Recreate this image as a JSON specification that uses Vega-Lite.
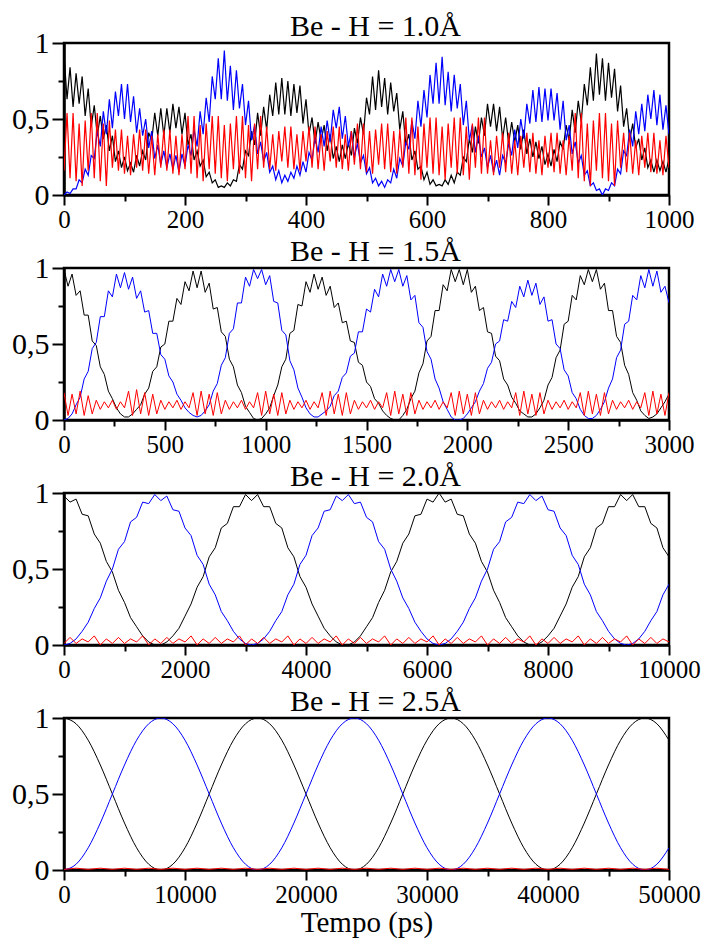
{
"$schema":"https://vega.github.io/schema/vega-lite/v6.json",
"background":"white",
"padding":{"left":10,"top":10,"right":10,"bottom":0},
"spacing":1,
"config":{
"font":"Liberation Serif",
"view":{"stroke":"black","strokeWidth":2.5},
"axis":{"labelFont":"Liberation Serif","labelColor":"black","tickColor":"black","tickWidth":2,"domainColor":"black","domainWidth":2.5,"grid":false,"labelFlush":false,"labelOverlap":false,"titleFont":"Liberation Serif","titleColor":"black","titleFontWeight":"normal"},
"axisX":{"labelFont":"Liberation Serif","labelFontSize":25,"labelPadding":2},
"axisY":{"labelFont":"Liberation Serif","labelFontSize":30,"labelPadding":3},
"title":{"font":"Liberation Serif","fontSize":30,"fontWeight":"normal","color":"black","offset":-14,"frame":"group","anchor":"middle","dx":9}
},
"datasets":{
"p1":[
{"t":0,"k":0.93,"b":0,"r":0.16},{"t":5,"k":0.63,"b":0.02,"r":0.54},{"t":10,"k":0.84,"b":0.01,"r":0.11},{"t":15,"k":0.58,"b":0.04,"r":0.54},{"t":20,"k":0.8,"b":0.04,"r":0.09},{"t":25,"k":0.6,"b":0.1,"r":0.47},{"t":30,"k":0.78,"b":0.08,"r":0.06},{"t":35,"k":0.52,"b":0.17,"r":0.49},{"t":40,"k":0.7,"b":0.13,"r":0.16},{"t":45,"k":0.45,"b":0.26,"r":0.54},
{"t":50,"k":0.59,"b":0.24,"r":0.11},{"t":55,"k":0.39,"b":0.42,"r":0.54},{"t":60,"k":0.52,"b":0.32,"r":0.09},{"t":65,"k":0.37,"b":0.55,"r":0.47},{"t":70,"k":0.46,"b":0.4,"r":0.06},{"t":75,"k":0.29,"b":0.63,"r":0.49},{"t":80,"k":0.39,"b":0.44,"r":0.18},{"t":85,"k":0.22,"b":0.68,"r":0.43},{"t":90,"k":0.29,"b":0.52,"r":0.16},{"t":95,"k":0.18,"b":0.73,"r":0.43},
{"t":100,"k":0.25,"b":0.5,"r":0.14},{"t":105,"k":0.16,"b":0.73,"r":0.39},{"t":110,"k":0.21,"b":0.48,"r":0.13},{"t":115,"k":0.15,"b":0.65,"r":0.4},{"t":120,"k":0.26,"b":0.41,"r":0.18},{"t":125,"k":0.19,"b":0.57,"r":0.43},{"t":130,"k":0.29,"b":0.39,"r":0.16},{"t":135,"k":0.23,"b":0.5,"r":0.43},{"t":140,"k":0.41,"b":0.31,"r":0.14},{"t":145,"k":0.36,"b":0.42,"r":0.39},
{"t":150,"k":0.54,"b":0.24,"r":0.13},{"t":155,"k":0.39,"b":0.33,"r":0.4},{"t":160,"k":0.57,"b":0.2,"r":0.18},{"t":165,"k":0.39,"b":0.29,"r":0.43},{"t":170,"k":0.57,"b":0.18,"r":0.16},{"t":175,"k":0.41,"b":0.27,"r":0.43},{"t":180,"k":0.6,"b":0.17,"r":0.14},{"t":185,"k":0.44,"b":0.26,"r":0.39},{"t":190,"k":0.58,"b":0.15,"r":0.13},{"t":195,"k":0.4,"b":0.27,"r":0.4},
{"t":200,"k":0.54,"b":0.19,"r":0.17},{"t":205,"k":0.33,"b":0.33,"r":0.52},{"t":210,"k":0.4,"b":0.26,"r":0.14},{"t":215,"k":0.23,"b":0.43,"r":0.52},{"t":220,"k":0.29,"b":0.32,"r":0.11},{"t":225,"k":0.19,"b":0.55,"r":0.46},{"t":230,"k":0.23,"b":0.4,"r":0.09},{"t":235,"k":0.12,"b":0.64,"r":0.47},{"t":240,"k":0.15,"b":0.48,"r":0.17},{"t":245,"k":0.08,"b":0.78,"r":0.52},
{"t":250,"k":0.1,"b":0.63,"r":0.14},{"t":255,"k":0.05,"b":0.9,"r":0.52},{"t":260,"k":0.06,"b":0.63,"r":0.11},{"t":265,"k":0.05,"b":0.95,"r":0.46},{"t":270,"k":0.08,"b":0.62,"r":0.09},{"t":275,"k":0.06,"b":0.85,"r":0.47},{"t":280,"k":0.1,"b":0.56,"r":0.17},{"t":285,"k":0.09,"b":0.82,"r":0.52},{"t":290,"k":0.2,"b":0.57,"r":0.14},{"t":295,"k":0.17,"b":0.73,"r":0.52},
{"t":300,"k":0.29,"b":0.46,"r":0.11},{"t":305,"k":0.26,"b":0.62,"r":0.46},{"t":310,"k":0.42,"b":0.36,"r":0.09},{"t":315,"k":0.33,"b":0.46,"r":0.47},{"t":320,"k":0.54,"b":0.27,"r":0.17},{"t":325,"k":0.39,"b":0.35,"r":0.52},{"t":330,"k":0.58,"b":0.22,"r":0.18},{"t":335,"k":0.43,"b":0.28,"r":0.45},{"t":340,"k":0.66,"b":0.15,"r":0.17},{"t":345,"k":0.52,"b":0.19,"r":0.4},
{"t":350,"k":0.74,"b":0.1,"r":0.16},{"t":355,"k":0.53,"b":0.16,"r":0.42},{"t":360,"k":0.77,"b":0.08,"r":0.22},{"t":365,"k":0.53,"b":0.13,"r":0.45},{"t":370,"k":0.75,"b":0.09,"r":0.18},{"t":375,"k":0.52,"b":0.15,"r":0.45},{"t":380,"k":0.73,"b":0.11,"r":0.17},{"t":385,"k":0.54,"b":0.19,"r":0.4},{"t":390,"k":0.72,"b":0.13,"r":0.16},{"t":395,"k":0.47,"b":0.22,"r":0.42},
{"t":400,"k":0.63,"b":0.15,"r":0.22},{"t":405,"k":0.4,"b":0.28,"r":0.45},{"t":410,"k":0.51,"b":0.23,"r":0.18},{"t":415,"k":0.34,"b":0.38,"r":0.45},{"t":420,"k":0.48,"b":0.28,"r":0.17},{"t":425,"k":0.36,"b":0.45,"r":0.4},{"t":430,"k":0.46,"b":0.32,"r":0.16},{"t":435,"k":0.29,"b":0.49,"r":0.42},{"t":440,"k":0.4,"b":0.35,"r":0.22},{"t":445,"k":0.24,"b":0.56,"r":0.45},
{"t":450,"k":0.32,"b":0.44,"r":0.18},{"t":455,"k":0.22,"b":0.58,"r":0.45},{"t":460,"k":0.33,"b":0.37,"r":0.17},{"t":465,"k":0.24,"b":0.52,"r":0.4},{"t":470,"k":0.34,"b":0.32,"r":0.16},{"t":475,"k":0.26,"b":0.42,"r":0.42},{"t":480,"k":0.44,"b":0.25,"r":0.2},{"t":485,"k":0.34,"b":0.34,"r":0.47},{"t":490,"k":0.51,"b":0.21,"r":0.17},{"t":495,"k":0.4,"b":0.26,"r":0.47},
{"t":500,"k":0.64,"b":0.14,"r":0.15},{"t":505,"k":0.53,"b":0.18,"r":0.42},{"t":510,"k":0.78,"b":0.08,"r":0.14},{"t":515,"k":0.56,"b":0.11,"r":0.43},{"t":520,"k":0.82,"b":0.06,"r":0.2},{"t":525,"k":0.58,"b":0.09,"r":0.47},{"t":530,"k":0.77,"b":0.05,"r":0.17},{"t":535,"k":0.53,"b":0.1,"r":0.47},{"t":540,"k":0.74,"b":0.08,"r":0.15},{"t":545,"k":0.55,"b":0.17,"r":0.42},
{"t":550,"k":0.67,"b":0.11,"r":0.14},{"t":555,"k":0.43,"b":0.24,"r":0.43},{"t":560,"k":0.55,"b":0.19,"r":0.18},{"t":565,"k":0.33,"b":0.35,"r":0.51},{"t":570,"k":0.4,"b":0.3,"r":0.14},{"t":575,"k":0.23,"b":0.49,"r":0.51},{"t":580,"k":0.29,"b":0.37,"r":0.13},{"t":585,"k":0.17,"b":0.62,"r":0.45},{"t":590,"k":0.19,"b":0.45,"r":0.1},{"t":595,"k":0.1,"b":0.69,"r":0.47},
{"t":600,"k":0.15,"b":0.51,"r":0.18},{"t":605,"k":0.07,"b":0.79,"r":0.51},{"t":610,"k":0.1,"b":0.6,"r":0.14},{"t":615,"k":0.06,"b":0.87,"r":0.51},{"t":620,"k":0.07,"b":0.6,"r":0.13},{"t":625,"k":0.06,"b":0.91,"r":0.45},{"t":630,"k":0.1,"b":0.59,"r":0.1},{"t":635,"k":0.07,"b":0.81,"r":0.47},{"t":640,"k":0.13,"b":0.55,"r":0.18},{"t":645,"k":0.08,"b":0.79,"r":0.51},
{"t":650,"k":0.15,"b":0.57,"r":0.14},{"t":655,"k":0.13,"b":0.73,"r":0.51},{"t":660,"k":0.25,"b":0.46,"r":0.13},{"t":665,"k":0.22,"b":0.62,"r":0.45},{"t":670,"k":0.37,"b":0.36,"r":0.1},{"t":675,"k":0.28,"b":0.46,"r":0.47},{"t":680,"k":0.45,"b":0.28,"r":0.18},{"t":685,"k":0.34,"b":0.39,"r":0.51},{"t":690,"k":0.51,"b":0.25,"r":0.14},{"t":695,"k":0.39,"b":0.31,"r":0.51},
{"t":700,"k":0.6,"b":0.18,"r":0.14},{"t":705,"k":0.45,"b":0.26,"r":0.36},{"t":710,"k":0.6,"b":0.15,"r":0.13},{"t":715,"k":0.42,"b":0.23,"r":0.39},{"t":720,"k":0.58,"b":0.13,"r":0.18},{"t":725,"k":0.37,"b":0.26,"r":0.41},{"t":730,"k":0.51,"b":0.21,"r":0.15},{"t":735,"k":0.34,"b":0.34,"r":0.41},{"t":740,"k":0.48,"b":0.26,"r":0.14},{"t":745,"k":0.35,"b":0.43,"r":0.36},
{"t":750,"k":0.46,"b":0.31,"r":0.13},{"t":755,"k":0.3,"b":0.5,"r":0.39},{"t":760,"k":0.43,"b":0.37,"r":0.18},{"t":765,"k":0.27,"b":0.6,"r":0.41},{"t":770,"k":0.37,"b":0.47,"r":0.15},{"t":775,"k":0.25,"b":0.69,"r":0.41},{"t":780,"k":0.35,"b":0.48,"r":0.14},{"t":785,"k":0.24,"b":0.71,"r":0.36},{"t":790,"k":0.32,"b":0.48,"r":0.13},{"t":795,"k":0.2,"b":0.7,"r":0.39},
{"t":800,"k":0.27,"b":0.49,"r":0.18},{"t":805,"k":0.19,"b":0.7,"r":0.41},{"t":810,"k":0.3,"b":0.49,"r":0.15},{"t":815,"k":0.22,"b":0.67,"r":0.41},{"t":820,"k":0.35,"b":0.43,"r":0.14},{"t":825,"k":0.3,"b":0.62,"r":0.36},{"t":830,"k":0.46,"b":0.36,"r":0.13},{"t":835,"k":0.36,"b":0.46,"r":0.39},{"t":840,"k":0.56,"b":0.27,"r":0.16},{"t":845,"k":0.41,"b":0.35,"r":0.54},
{"t":850,"k":0.62,"b":0.21,"r":0.11},{"t":855,"k":0.48,"b":0.26,"r":0.54},{"t":860,"k":0.73,"b":0.13,"r":0.09},{"t":865,"k":0.59,"b":0.16,"r":0.47},{"t":870,"k":0.84,"b":0.06,"r":0.06},{"t":875,"k":0.62,"b":0.08,"r":0.49},{"t":880,"k":0.93,"b":0.03,"r":0.16},{"t":885,"k":0.66,"b":0.04,"r":0.54},{"t":890,"k":0.9,"b":0,"r":0.11},{"t":895,"k":0.62,"b":0.04,"r":0.54},
{"t":900,"k":0.87,"b":0.03,"r":0.09},{"t":905,"k":0.64,"b":0.08,"r":0.47},{"t":910,"k":0.83,"b":0.06,"r":0.06},{"t":915,"k":0.55,"b":0.17,"r":0.49},{"t":920,"k":0.72,"b":0.14,"r":0.18},{"t":925,"k":0.45,"b":0.29,"r":0.41},{"t":930,"k":0.57,"b":0.26,"r":0.15},{"t":935,"k":0.36,"b":0.43,"r":0.41},{"t":940,"k":0.47,"b":0.32,"r":0.14},{"t":945,"k":0.31,"b":0.55,"r":0.36},
{"t":950,"k":0.37,"b":0.4,"r":0.13},{"t":955,"k":0.23,"b":0.6,"r":0.39},{"t":960,"k":0.31,"b":0.42,"r":0.18},{"t":965,"k":0.18,"b":0.66,"r":0.41},{"t":970,"k":0.23,"b":0.5,"r":0.15},{"t":975,"k":0.15,"b":0.69,"r":0.41},{"t":980,"k":0.23,"b":0.46,"r":0.14},{"t":985,"k":0.16,"b":0.66,"r":0.36},{"t":990,"k":0.22,"b":0.43,"r":0.13},{"t":995,"k":0.15,"b":0.59,"r":0.39},
{"t":1000,"k":0.24,"b":0.4,"r":0.18}
],
"p2":[
{"t":0,"k":0.99,"b":0,"r":0.18},{"t":20,"k":0.88,"b":0.01,"r":0.03},{"t":40,"k":0.96,"b":0.04,"r":0.17},{"t":60,"k":0.82,"b":0.1,"r":0.04},{"t":80,"k":0.85,"b":0.15,"r":0.19},{"t":100,"k":0.69,"b":0.27,"r":0.03},{"t":120,"k":0.69,"b":0.32,"r":0.16},{"t":140,"k":0.52,"b":0.47,"r":0.04},
{"t":160,"k":0.49,"b":0.51,"r":0.13},{"t":180,"k":0.35,"b":0.68,"r":0.07},{"t":200,"k":0.3,"b":0.68,"r":0.12},{"t":220,"k":0.19,"b":0.85,"r":0.08},{"t":240,"k":0.14,"b":0.81,"r":0.13},{"t":260,"k":0.08,"b":0.96,"r":0.07},{"t":280,"k":0.04,"b":0.87,"r":0.12},{"t":300,"k":0.02,"b":0.97,"r":0.08},
{"t":320,"k":0.02,"b":0.86,"r":0.19},{"t":340,"k":0.04,"b":0.94,"r":0.03},{"t":360,"k":0.07,"b":0.8,"r":0.2},{"t":380,"k":0.1,"b":0.85,"r":0.04},{"t":400,"k":0.17,"b":0.71,"r":0.18},{"t":420,"k":0.21,"b":0.72,"r":0.03},{"t":440,"k":0.32,"b":0.57,"r":0.17},{"t":460,"k":0.35,"b":0.57,"r":0.04},
{"t":480,"k":0.48,"b":0.43,"r":0.13},{"t":500,"k":0.5,"b":0.4,"r":0.07},{"t":520,"k":0.65,"b":0.29,"r":0.12},{"t":540,"k":0.65,"b":0.25,"r":0.08},{"t":560,"k":0.8,"b":0.17,"r":0.13},{"t":580,"k":0.76,"b":0.13,"r":0.07},{"t":600,"k":0.91,"b":0.08,"r":0.12},{"t":620,"k":0.85,"b":0.05,"r":0.08},
{"t":640,"k":0.98,"b":0.03,"r":0.18},{"t":660,"k":0.87,"b":0.02,"r":0.03},{"t":680,"k":0.98,"b":0.03,"r":0.19},{"t":700,"k":0.84,"b":0.06,"r":0.04},{"t":720,"k":0.9,"b":0.1,"r":0.17},{"t":740,"k":0.73,"b":0.19,"r":0.03},{"t":760,"k":0.74,"b":0.24,"r":0.18},{"t":780,"k":0.58,"b":0.36,"r":0.04},
{"t":800,"k":0.55,"b":0.41,"r":0.13},{"t":820,"k":0.4,"b":0.57,"r":0.07},{"t":840,"k":0.35,"b":0.6,"r":0.12},{"t":860,"k":0.23,"b":0.77,"r":0.08},{"t":880,"k":0.18,"b":0.77,"r":0.13},{"t":900,"k":0.09,"b":0.94,"r":0.07},{"t":920,"k":0.05,"b":0.88,"r":0.12},{"t":940,"k":0.01,"b":0.99,"r":0.08},
{"t":960,"k":0,"b":0.93,"r":0.18},{"t":980,"k":0.01,"b":0.99,"r":0.03},{"t":1000,"k":0.04,"b":0.89,"r":0.19},{"t":1020,"k":0.08,"b":0.95,"r":0.04},{"t":1040,"k":0.16,"b":0.78,"r":0.17},{"t":1060,"k":0.23,"b":0.77,"r":0.03},{"t":1080,"k":0.35,"b":0.59,"r":0.18},{"t":1100,"k":0.4,"b":0.56,"r":0.04},
{"t":1120,"k":0.57,"b":0.39,"r":0.13},{"t":1140,"k":0.59,"b":0.33,"r":0.07},{"t":1160,"k":0.76,"b":0.21,"r":0.12},{"t":1180,"k":0.75,"b":0.15,"r":0.08},{"t":1200,"k":0.91,"b":0.08,"r":0.13},{"t":1220,"k":0.84,"b":0.04,"r":0.07},{"t":1240,"k":0.96,"b":0.02,"r":0.12},{"t":1260,"k":0.86,"b":0.02,"r":0.08},
{"t":1280,"k":0.94,"b":0.04,"r":0.18},{"t":1300,"k":0.82,"b":0.06,"r":0.03},{"t":1320,"k":0.88,"b":0.09,"r":0.19},{"t":1340,"k":0.74,"b":0.16,"r":0.04},{"t":1360,"k":0.77,"b":0.19,"r":0.17},{"t":1380,"k":0.64,"b":0.28,"r":0.03},{"t":1400,"k":0.65,"b":0.31,"r":0.18},{"t":1420,"k":0.52,"b":0.42,"r":0.04},
{"t":1440,"k":0.51,"b":0.44,"r":0.13},{"t":1460,"k":0.38,"b":0.58,"r":0.07},{"t":1480,"k":0.36,"b":0.58,"r":0.12},{"t":1500,"k":0.25,"b":0.73,"r":0.08},{"t":1520,"k":0.22,"b":0.71,"r":0.13},{"t":1540,"k":0.14,"b":0.86,"r":0.07},{"t":1560,"k":0.11,"b":0.81,"r":0.12},{"t":1580,"k":0.06,"b":0.96,"r":0.08},
{"t":1600,"k":0.03,"b":0.88,"r":0.18},{"t":1620,"k":0.01,"b":0.99,"r":0.03},{"t":1640,"k":0,"b":0.91,"r":0.19},{"t":1660,"k":0,"b":0.99,"r":0.04},{"t":1680,"k":0.03,"b":0.88,"r":0.17},{"t":1700,"k":0.07,"b":0.95,"r":0.03},{"t":1720,"k":0.14,"b":0.79,"r":0.18},{"t":1740,"k":0.19,"b":0.82,"r":0.04},
{"t":1760,"k":0.31,"b":0.64,"r":0.13},{"t":1780,"k":0.37,"b":0.61,"r":0.07},{"t":1800,"k":0.52,"b":0.45,"r":0.12},{"t":1820,"k":0.55,"b":0.4,"r":0.08},{"t":1840,"k":0.72,"b":0.27,"r":0.13},{"t":1860,"k":0.72,"b":0.21,"r":0.07},{"t":1880,"k":0.89,"b":0.12,"r":0.12},{"t":1900,"k":0.85,"b":0.07,"r":0.08},
{"t":1920,"k":0.99,"b":0.02,"r":0.18},{"t":1940,"k":0.91,"b":0,"r":0.03},{"t":1960,"k":0.99,"b":0,"r":0.19},{"t":1980,"k":0.89,"b":0.01,"r":0.04},{"t":2000,"k":0.99,"b":0.04,"r":0.17},{"t":2020,"k":0.84,"b":0.08,"r":0.03},{"t":2040,"k":0.88,"b":0.12,"r":0.18},{"t":2060,"k":0.72,"b":0.19,"r":0.04},
{"t":2080,"k":0.74,"b":0.24,"r":0.13},{"t":2100,"k":0.58,"b":0.34,"r":0.07},{"t":2120,"k":0.57,"b":0.38,"r":0.12},{"t":2140,"k":0.42,"b":0.5,"r":0.08},{"t":2160,"k":0.39,"b":0.52,"r":0.13},{"t":2180,"k":0.27,"b":0.66,"r":0.07},{"t":2200,"k":0.23,"b":0.65,"r":0.12},{"t":2220,"k":0.15,"b":0.78,"r":0.08},
{"t":2240,"k":0.11,"b":0.74,"r":0.18},{"t":2260,"k":0.06,"b":0.88,"r":0.03},{"t":2280,"k":0.04,"b":0.81,"r":0.19},{"t":2300,"k":0.02,"b":0.92,"r":0.04},{"t":2320,"k":0.02,"b":0.82,"r":0.17},{"t":2340,"k":0.04,"b":0.9,"r":0.03},{"t":2360,"k":0.08,"b":0.76,"r":0.18},{"t":2380,"k":0.13,"b":0.81,"r":0.04},
{"t":2400,"k":0.23,"b":0.65,"r":0.13},{"t":2420,"k":0.28,"b":0.66,"r":0.07},{"t":2440,"k":0.41,"b":0.5,"r":0.12},{"t":2460,"k":0.46,"b":0.47,"r":0.08},{"t":2480,"k":0.63,"b":0.33,"r":0.13},{"t":2500,"k":0.65,"b":0.29,"r":0.07},{"t":2520,"k":0.82,"b":0.18,"r":0.12},{"t":2540,"k":0.79,"b":0.14,"r":0.08},
{"t":2560,"k":0.95,"b":0.07,"r":0.18},{"t":2580,"k":0.89,"b":0.03,"r":0.03},{"t":2600,"k":0.99,"b":0.01,"r":0.19},{"t":2620,"k":0.91,"b":0.01,"r":0.04},{"t":2640,"k":0.99,"b":0.03,"r":0.17},{"t":2660,"k":0.86,"b":0.07,"r":0.03},{"t":2680,"k":0.9,"b":0.12,"r":0.18},{"t":2700,"k":0.72,"b":0.21,"r":0.04},
{"t":2720,"k":0.72,"b":0.27,"r":0.13},{"t":2740,"k":0.55,"b":0.41,"r":0.07},{"t":2760,"k":0.51,"b":0.46,"r":0.12},{"t":2780,"k":0.36,"b":0.63,"r":0.08},{"t":2800,"k":0.3,"b":0.65,"r":0.13},{"t":2820,"k":0.18,"b":0.82,"r":0.07},{"t":2840,"k":0.13,"b":0.79,"r":0.12},{"t":2860,"k":0.06,"b":0.95,"r":0.08},
{"t":2880,"k":0.03,"b":0.87,"r":0.18},{"t":2900,"k":0.01,"b":0.99,"r":0.03},{"t":2920,"k":0.02,"b":0.88,"r":0.19},{"t":2940,"k":0.04,"b":0.98,"r":0.04},{"t":2960,"k":0.08,"b":0.84,"r":0.17},{"t":2980,"k":0.12,"b":0.88,"r":0.03},{"t":3000,"k":0.17,"b":0.77,"r":0.18}
],
"p3":[
{"t":0,"k":0.98,"b":0,"r":0.01},{"t":100,"k":0.94,"b":0.01,"r":0.05},{"t":200,"k":0.96,"b":0.04,"r":0.01},{"t":300,"k":0.86,"b":0.09,"r":0.04},{"t":400,"k":0.85,"b":0.15,"r":0.02},{"t":500,"k":0.73,"b":0.24,"r":0.06},{"t":600,"k":0.67,"b":0.31,"r":0},{"t":700,"k":0.55,"b":0.42,"r":0.04},{"t":800,"k":0.48,"b":0.5,"r":0.01},{"t":900,"k":0.36,"b":0.63,"r":0.05},
{"t":1000,"k":0.28,"b":0.68,"r":0.01},{"t":1100,"k":0.18,"b":0.81,"r":0.04},{"t":1200,"k":0.12,"b":0.84,"r":0.02},{"t":1300,"k":0.06,"b":0.94,"r":0.06},{"t":1400,"k":0.02,"b":0.93,"r":0},{"t":1500,"k":0,"b":0.99,"r":0.04},{"t":1600,"k":0,"b":0.95,"r":0.01},{"t":1700,"k":0.02,"b":0.98,"r":0.05},{"t":1800,"k":0.06,"b":0.89,"r":0.01},{"t":1900,"k":0.11,"b":0.88,"r":0.04},
{"t":2000,"k":0.19,"b":0.77,"r":0.02},{"t":2100,"k":0.27,"b":0.72,"r":0.06},{"t":2200,"k":0.38,"b":0.59,"r":0},{"t":2300,"k":0.45,"b":0.53,"r":0.04},{"t":2400,"k":0.58,"b":0.4,"r":0.01},{"t":2500,"k":0.64,"b":0.33,"r":0.05},{"t":2600,"k":0.77,"b":0.22,"r":0.01},{"t":2700,"k":0.8,"b":0.16,"r":0.04},{"t":2800,"k":0.91,"b":0.09,"r":0.02},{"t":2900,"k":0.91,"b":0.04,"r":0.06},
{"t":3000,"k":0.99,"b":0.01,"r":0},{"t":3100,"k":0.95,"b":0,"r":0.04},{"t":3200,"k":0.99,"b":0.01,"r":0.01},{"t":3300,"k":0.91,"b":0.04,"r":0.05},{"t":3400,"k":0.91,"b":0.09,"r":0.01},{"t":3500,"k":0.8,"b":0.16,"r":0.04},{"t":3600,"k":0.77,"b":0.22,"r":0.02},{"t":3700,"k":0.64,"b":0.33,"r":0.06},{"t":3800,"k":0.58,"b":0.4,"r":0},{"t":3900,"k":0.45,"b":0.53,"r":0.04},
{"t":4000,"k":0.38,"b":0.59,"r":0.01},{"t":4100,"k":0.27,"b":0.72,"r":0.05},{"t":4200,"k":0.19,"b":0.77,"r":0.01},{"t":4300,"k":0.11,"b":0.88,"r":0.04},{"t":4400,"k":0.06,"b":0.89,"r":0.02},{"t":4500,"k":0.02,"b":0.98,"r":0.06},{"t":4600,"k":0,"b":0.95,"r":0},{"t":4700,"k":0,"b":0.99,"r":0.04},{"t":4800,"k":0.02,"b":0.93,"r":0.01},{"t":4900,"k":0.06,"b":0.94,"r":0.05},
{"t":5000,"k":0.12,"b":0.84,"r":0.01},{"t":5100,"k":0.18,"b":0.81,"r":0.04},{"t":5200,"k":0.28,"b":0.68,"r":0.02},{"t":5300,"k":0.36,"b":0.63,"r":0.06},{"t":5400,"k":0.48,"b":0.5,"r":0},{"t":5500,"k":0.55,"b":0.42,"r":0.04},{"t":5600,"k":0.67,"b":0.31,"r":0.01},{"t":5700,"k":0.73,"b":0.24,"r":0.05},{"t":5800,"k":0.85,"b":0.15,"r":0.01},{"t":5900,"k":0.86,"b":0.09,"r":0.04},
{"t":6000,"k":0.96,"b":0.04,"r":0.02},{"t":6100,"k":0.94,"b":0.01,"r":0.06},{"t":6200,"k":1,"b":0,"r":0},{"t":6300,"k":0.94,"b":0.01,"r":0.04},{"t":6400,"k":0.96,"b":0.04,"r":0.01},{"t":6500,"k":0.86,"b":0.09,"r":0.05},{"t":6600,"k":0.85,"b":0.15,"r":0.01},{"t":6700,"k":0.73,"b":0.24,"r":0.04},{"t":6800,"k":0.67,"b":0.31,"r":0.02},{"t":6900,"k":0.55,"b":0.42,"r":0.06},
{"t":7000,"k":0.48,"b":0.5,"r":0},{"t":7100,"k":0.36,"b":0.63,"r":0.04},{"t":7200,"k":0.28,"b":0.68,"r":0.01},{"t":7300,"k":0.18,"b":0.81,"r":0.05},{"t":7400,"k":0.12,"b":0.84,"r":0.01},{"t":7500,"k":0.06,"b":0.94,"r":0.04},{"t":7600,"k":0.02,"b":0.93,"r":0.02},{"t":7700,"k":0,"b":0.99,"r":0.06},{"t":7800,"k":0,"b":0.95,"r":0},{"t":7900,"k":0.02,"b":0.98,"r":0.04},
{"t":8000,"k":0.06,"b":0.89,"r":0.01},{"t":8100,"k":0.11,"b":0.88,"r":0.05},{"t":8200,"k":0.19,"b":0.77,"r":0.01},{"t":8300,"k":0.27,"b":0.72,"r":0.04},{"t":8400,"k":0.38,"b":0.59,"r":0.02},{"t":8500,"k":0.45,"b":0.53,"r":0.06},{"t":8600,"k":0.58,"b":0.4,"r":0},{"t":8700,"k":0.64,"b":0.33,"r":0.04},{"t":8800,"k":0.77,"b":0.22,"r":0.01},{"t":8900,"k":0.8,"b":0.16,"r":0.05},
{"t":9000,"k":0.91,"b":0.09,"r":0.01},{"t":9100,"k":0.91,"b":0.04,"r":0.04},{"t":9200,"k":0.99,"b":0.01,"r":0.02},{"t":9300,"k":0.95,"b":0,"r":0.06},{"t":9400,"k":0.99,"b":0.01,"r":0},{"t":9500,"k":0.91,"b":0.04,"r":0.04},{"t":9600,"k":0.91,"b":0.09,"r":0.01},{"t":9700,"k":0.8,"b":0.16,"r":0.05},{"t":9800,"k":0.77,"b":0.22,"r":0.01},{"t":9900,"k":0.64,"b":0.33,"r":0.04},
{"t":10000,"k":0.58,"b":0.4,"r":0.02}
],
"p4":[
{"t":0,"k":1,"b":0,"r":0.004},{"t":1000,"k":0.962,"b":0.038,"r":0.012},{"t":2000,"k":0.854,"b":0.146,"r":0.004},{"t":3000,"k":0.691,"b":0.309,"r":0.012},{"t":4000,"k":0.5,"b":0.5,"r":0.004},{"t":5000,"k":0.309,"b":0.691,"r":0.012},{"t":6000,"k":0.146,"b":0.854,"r":0.004},{"t":7000,"k":0.038,"b":0.962,"r":0.012},
{"t":8000,"k":0,"b":1,"r":0.004},{"t":9000,"k":0.038,"b":0.962,"r":0.012},{"t":10000,"k":0.146,"b":0.854,"r":0.004},{"t":11000,"k":0.309,"b":0.691,"r":0.012},{"t":12000,"k":0.5,"b":0.5,"r":0.004},{"t":13000,"k":0.691,"b":0.309,"r":0.012},{"t":14000,"k":0.854,"b":0.146,"r":0.004},{"t":15000,"k":0.962,"b":0.038,"r":0.012},
{"t":16000,"k":1,"b":0,"r":0.004},{"t":17000,"k":0.962,"b":0.038,"r":0.012},{"t":18000,"k":0.854,"b":0.146,"r":0.004},{"t":19000,"k":0.691,"b":0.309,"r":0.012},{"t":20000,"k":0.5,"b":0.5,"r":0.004},{"t":21000,"k":0.309,"b":0.691,"r":0.012},{"t":22000,"k":0.146,"b":0.854,"r":0.004},{"t":23000,"k":0.038,"b":0.962,"r":0.012},
{"t":24000,"k":0,"b":1,"r":0.004},{"t":25000,"k":0.038,"b":0.962,"r":0.012},{"t":26000,"k":0.146,"b":0.854,"r":0.004},{"t":27000,"k":0.309,"b":0.691,"r":0.012},{"t":28000,"k":0.5,"b":0.5,"r":0.004},{"t":29000,"k":0.691,"b":0.309,"r":0.012},{"t":30000,"k":0.854,"b":0.146,"r":0.004},{"t":31000,"k":0.962,"b":0.038,"r":0.012},
{"t":32000,"k":1,"b":0,"r":0.004},{"t":33000,"k":0.962,"b":0.038,"r":0.012},{"t":34000,"k":0.854,"b":0.146,"r":0.004},{"t":35000,"k":0.691,"b":0.309,"r":0.012},{"t":36000,"k":0.5,"b":0.5,"r":0.004},{"t":37000,"k":0.309,"b":0.691,"r":0.012},{"t":38000,"k":0.146,"b":0.854,"r":0.004},{"t":39000,"k":0.038,"b":0.962,"r":0.012},
{"t":40000,"k":0,"b":1,"r":0.004},{"t":41000,"k":0.038,"b":0.962,"r":0.012},{"t":42000,"k":0.146,"b":0.854,"r":0.004},{"t":43000,"k":0.309,"b":0.691,"r":0.012},{"t":44000,"k":0.5,"b":0.5,"r":0.004},{"t":45000,"k":0.691,"b":0.309,"r":0.012},{"t":46000,"k":0.854,"b":0.146,"r":0.004},{"t":47000,"k":0.962,"b":0.038,"r":0.012},
{"t":48000,"k":1,"b":0,"r":0.004},{"t":49000,"k":0.962,"b":0.038,"r":0.012},{"t":50000,"k":0.854,"b":0.146,"r":0.004}
]
},
"vconcat":[
{"title":{"text":"Be - H = 1.0Å"},"width":605,"height":152,"data":{"name":"p1"},
"resolve":{"axis":{"x":"independent","y":"independent"}},
"layer":[
{"mark":{"type":"line","color":"#000000","strokeWidth":1.2,"clip":true},
"encoding":{"x":{"field":"t","type":"quantitative","scale":{"domain":[0,1000],"nice":false,"zero":false},"axis":{"orient":"bottom","values":[0,200,400,600,800,1000],"tickSize":10,"format":"d","title":null,"labelFont":"Liberation Serif","labelFontSize":25}},
"y":{"field":"k","type":"quantitative","scale":{"domain":[0,1],"nice":false},"axis":{"orient":"left","values":[0,0.5,1],"tickSize":12,"labelExpr":"datum.value == 0.5 ? '0,5' : (datum.value == 1 ? '1' : '0')","title":null,"labelFont":"Liberation Serif","labelFontSize":30}}}},
{"mark":{"type":"line","color":"#0000ff","strokeWidth":1.2,"clip":true},
"encoding":{"x":{"field":"t","type":"quantitative","axis":{"orient":"bottom","values":[100,300,500,700,900],"tickSize":6,"labels":false,"domain":false,"title":null}},
"y":{"field":"b","type":"quantitative","axis":{"orient":"left","values":[0.25,0.75],"tickSize":6,"labels":false,"domain":false,"title":null}}}},
{"mark":{"type":"line","color":"#ff0000","strokeWidth":1.2,"clip":true},
"encoding":{"x":{"field":"t","type":"quantitative","axis":null},"y":{"field":"r","type":"quantitative","axis":null}}}
]},
{"title":{"text":"Be - H = 1.5Å"},"width":605,"height":152,"data":{"name":"p2"},
"resolve":{"axis":{"x":"independent","y":"independent"}},
"layer":[
{"mark":{"type":"line","color":"#000000","strokeWidth":1,"clip":true},
"encoding":{"x":{"field":"t","type":"quantitative","scale":{"domain":[0,3000],"nice":false,"zero":false},"axis":{"orient":"bottom","values":[0,500,1000,1500,2000,2500,3000],"tickSize":10,"format":"d","title":null,"labelFont":"Liberation Serif","labelFontSize":25}},
"y":{"field":"k","type":"quantitative","scale":{"domain":[0,1],"nice":false},"axis":{"orient":"left","values":[0,0.5,1],"tickSize":12,"labelExpr":"datum.value == 0.5 ? '0,5' : (datum.value == 1 ? '1' : '0')","title":null,"labelFont":"Liberation Serif","labelFontSize":30}}}},
{"mark":{"type":"line","color":"#0000ff","strokeWidth":1,"clip":true},
"encoding":{"x":{"field":"t","type":"quantitative","axis":{"orient":"bottom","values":[250,750,1250,1750,2250,2750],"tickSize":6,"labels":false,"domain":false,"title":null}},
"y":{"field":"b","type":"quantitative","axis":{"orient":"left","values":[0.25,0.75],"tickSize":6,"labels":false,"domain":false,"title":null}}}},
{"mark":{"type":"line","color":"#ff0000","strokeWidth":1,"clip":true},
"encoding":{"x":{"field":"t","type":"quantitative","axis":null},"y":{"field":"r","type":"quantitative","axis":null}}}
]},
{"title":{"text":"Be - H = 2.0Å"},"width":605,"height":152,"data":{"name":"p3"},
"resolve":{"axis":{"x":"independent","y":"independent"}},
"layer":[
{"mark":{"type":"line","color":"#000000","strokeWidth":1,"clip":true},
"encoding":{"x":{"field":"t","type":"quantitative","scale":{"domain":[0,10000],"nice":false,"zero":false},"axis":{"orient":"bottom","values":[0,2000,4000,6000,8000,10000],"tickSize":10,"format":"d","title":null,"labelFont":"Liberation Serif","labelFontSize":25}},
"y":{"field":"k","type":"quantitative","scale":{"domain":[0,1],"nice":false},"axis":{"orient":"left","values":[0,0.5,1],"tickSize":12,"labelExpr":"datum.value == 0.5 ? '0,5' : (datum.value == 1 ? '1' : '0')","title":null,"labelFont":"Liberation Serif","labelFontSize":30}}}},
{"mark":{"type":"line","color":"#0000ff","strokeWidth":1,"clip":true},
"encoding":{"x":{"field":"t","type":"quantitative","axis":{"orient":"bottom","values":[1000,3000,5000,7000,9000],"tickSize":6,"labels":false,"domain":false,"title":null}},
"y":{"field":"b","type":"quantitative","axis":{"orient":"left","values":[0.25,0.75],"tickSize":6,"labels":false,"domain":false,"title":null}}}},
{"mark":{"type":"line","color":"#ff0000","strokeWidth":1,"clip":true},
"encoding":{"x":{"field":"t","type":"quantitative","axis":null},"y":{"field":"r","type":"quantitative","axis":null}}}
]},
{"title":{"text":"Be - H = 2.5Å"},"width":605,"height":152,"data":{"name":"p4"},
"resolve":{"axis":{"x":"independent","y":"independent"}},
"layer":[
{"mark":{"type":"line","color":"#000000","strokeWidth":1,"clip":true,"interpolate":"monotone"},
"encoding":{"x":{"field":"t","type":"quantitative","scale":{"domain":[0,50000],"nice":false,"zero":false},"axis":{"orient":"bottom","values":[0,10000,20000,30000,40000,50000],"tickSize":10,"format":"d","title":"Tempo (ps)","titleFont":"Liberation Serif","titleFontSize":29,"titleFontWeight":"normal","titlePadding":1,"labelFont":"Liberation Serif","labelFontSize":25}},
"y":{"field":"k","type":"quantitative","scale":{"domain":[0,1],"nice":false},"axis":{"orient":"left","values":[0,0.5,1],"tickSize":12,"labelExpr":"datum.value == 0.5 ? '0,5' : (datum.value == 1 ? '1' : '0')","title":null,"labelFont":"Liberation Serif","labelFontSize":30}}}},
{"mark":{"type":"line","color":"#0000ff","strokeWidth":1,"clip":true,"interpolate":"monotone"},
"encoding":{"x":{"field":"t","type":"quantitative","axis":{"orient":"bottom","values":[5000,15000,25000,35000,45000],"tickSize":6,"labels":false,"domain":false,"title":null}},
"y":{"field":"b","type":"quantitative","axis":{"orient":"left","values":[0.25,0.75],"tickSize":6,"labels":false,"domain":false,"title":null}}}},
{"mark":{"type":"line","color":"#ff0000","strokeWidth":1,"clip":true},
"encoding":{"x":{"field":"t","type":"quantitative","axis":null},"y":{"field":"r","type":"quantitative","axis":null}}}
]}
]
}
